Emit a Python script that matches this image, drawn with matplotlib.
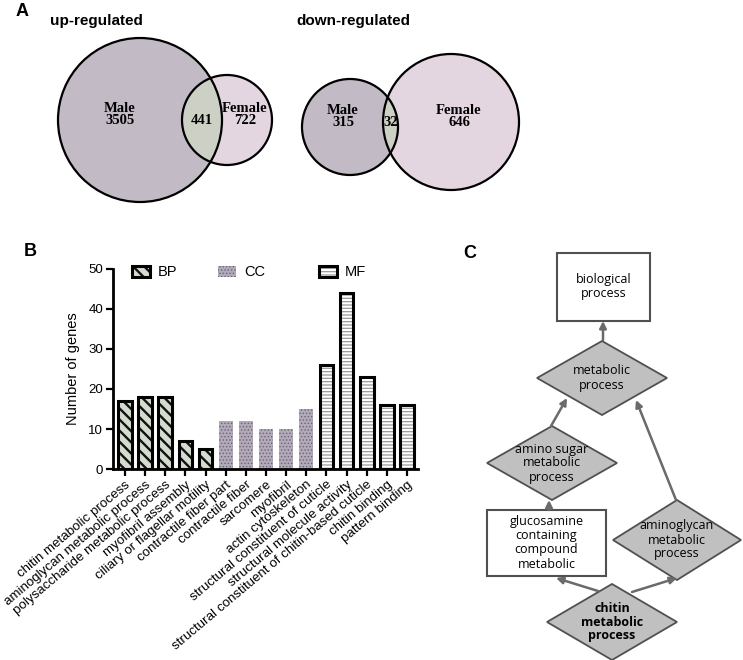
import matplotlib
matplotlib.use('Agg')
import matplotlib.pyplot as plt
from matplotlib.patches import Circle, Rectangle, Polygon
import numpy as np

# ---------------- data ----------------
up_labels = ['Male', '', 'Female']
up_counts = [3505, 441, 722]
down_labels = ['Male', '', 'Female']
down_counts = [315, 32, 646]

go_terms = ['chitin metabolic process', 'aminoglycan metabolic process',
            'polysaccharide metabolic process', 'myofibril assembly',
            'ciliary or flagellar motility', 'contractile fiber part',
            'contractile fiber', 'sarcomere', 'myofibril', 'actin cytoskeleton',
            'structural constituent of cuticle', 'structural molecule activity',
            'structural constituent of chitin-based cuticle', 'chitin binding',
            'pattern binding']
go_counts = [17, 18, 18, 7, 5, 12, 12, 10, 10, 15, 26, 44, 23, 16, 16]
go_groups = ['BP'] * 5 + ['CC'] * 5 + ['MF'] * 5
group_names = ['BP', 'CC', 'MF']
yticks = [0, 10, 20, 30, 40, 50]

# ---------------- figure ----------------
W, H = 743, 660
fig = plt.figure(figsize=(W / 100, H / 100), dpi=100)
bg = fig.add_axes([0, 0, 1, 1])
bg.set_xlim(0, W)
bg.set_ylim(H, 0)
bg.axis('off')

SANS = 'Liberation Sans'
SERIF = 'Liberation Serif'

# ---------------- Panel A: Venn ----------------
bg.text(22, 11, 'A', fontsize=13, fontweight='bold', family=SANS, va='center', ha='center')
bg.text(50, 21, 'up-regulated', fontsize=11, fontweight='bold', family=SANS, va='center')
bg.text(296, 21, 'down-regulated', fontsize=11, fontweight='bold', family=SANS, va='center')

c_male = '#c2bac5'
c_fem = '#e3d6e0'
c_int = '#cdd1c5'


def venn(cA, rA, cB, rB, counts, labels, posA, posI, posB, fs=10.5):
    a = Circle(cA, rA, facecolor=c_male, edgecolor='none')
    b = Circle(cB, rB, facecolor=c_fem, edgecolor='none')
    bg.add_patch(a)
    bg.add_patch(b)
    inter = Circle(cA, rA, facecolor=c_int, edgecolor='none')
    bg.add_patch(inter)
    clip = Circle(cB, rB, transform=bg.transData)
    inter.set_clip_path(clip)
    bg.add_patch(Circle(cA, rA, fill=False, edgecolor='black', lw=1.6))
    bg.add_patch(Circle(cB, rB, fill=False, edgecolor='black', lw=1.6))
    kw = dict(fontsize=fs, fontweight='bold', family=SERIF, ha='center', va='center',
              linespacing=0.9)
    bg.text(*posA, f'{labels[0]}\n{counts[0]}', **kw)
    bg.text(*posI, f'{counts[1]}', **kw)
    bg.text(*posB, f'{labels[2]}\n{counts[2]}', **kw)


venn((140, 120), 82, (227, 120), 45, up_counts, up_labels,
     (120, 115), (202, 120), (245, 115))
venn((350, 127), 48, (451, 122), 68, down_counts, down_labels,
     (343, 117), (391, 123), (459, 117))

# ---------------- Panel B: bar chart ----------------
bg.text(30, 252, 'B', fontsize=13, fontweight='bold', family=SANS, va='center', ha='center')

ax = fig.add_axes([113 / W, 1 - 469 / H, (418 - 113) / W, 200 / H])
ax.set_facecolor('none')

styles = {
    'BP': dict(face='#d3dccf', hatch='\\\\\\', hcol='#111111', hlw=1.7, edge=True),
    'CC': dict(face='#b3aab9', hatch='.....', hcol='#6d6473', hlw=0.6, edge=False),
    'MF': dict(face='white', hatch='-----', hcol='#9a9a9a', hlw=0.9, edge=True),
}

x = np.arange(len(go_terms))
bw = 0.68
for g in group_names:
    idx = [i for i, gg in enumerate(go_groups) if gg == g]
    st = styles[g]
    xs = x[idx]
    vs = [go_counts[i] for i in idx]
    with plt.rc_context({'hatch.linewidth': st['hlw']}):
        bars = ax.bar(xs, vs, width=bw, color=st['face'], edgecolor=st['hcol'],
                      linewidth=0, hatch=st['hatch'], zorder=2)
    for p in bars:
        if hasattr(p, 'set_hatch_linewidth'):
            p.set_hatch_linewidth(st['hlw'])
    if st['edge']:
        ax.bar(xs, vs, width=bw, fill=False, edgecolor='black', linewidth=2.2, zorder=3)

ax.set_xlim(-0.6, 14.55)
ax.set_ylim(0, 50)
ax.set_yticks(yticks)
ax.set_xticks(x)
ax.set_xticklabels(go_terms, rotation=40, ha='right', rotation_mode='anchor',
                   fontsize=9.6, family=SANS)
for lab in ax.get_yticklabels():
    lab.set_family(SANS)
    lab.set_fontsize(9.5)
ax.tick_params(axis='both', direction='out', length=5, width=1.6, color='black', pad=2)
for s in ['top', 'right']:
    ax.spines[s].set_visible(False)
for s in ['left', 'bottom']:
    ax.spines[s].set_linewidth(2.0)
ax.set_ylabel('Number of genes', fontsize=10.5, family=SANS, labelpad=6)

# legend (manual, in pixel coordinates)
leg_items = [('BP', 132, 158), ('CC', 218, 244), ('MF', 319, 345)]
for name, bx, tx in leg_items:
    st = styles[name]
    with plt.rc_context({'hatch.linewidth': st['hlw']}):
        r = Rectangle((bx, 266), 18, 11, facecolor=st['face'], edgecolor=st['hcol'],
                      linewidth=0, hatch=st['hatch'])
    if hasattr(r, 'set_hatch_linewidth'):
        r.set_hatch_linewidth(st['hlw'])
    bg.add_patch(r)
    if st['edge']:
        bg.add_patch(Rectangle((bx, 266), 18, 11, fill=False, edgecolor='black', linewidth=2.2))
    bg.text(tx, 272, name, fontsize=10.5, family=SANS, va='center', ha='left')

# ---------------- Panel C: GO graph ----------------
bg.text(470, 253, 'C', fontsize=13, fontweight='bold', family=SANS, va='center', ha='center')

CF = 'Open Sans'
dia_face = '#c0c0c0'
edge_col = '#505050'
arrow_col = '#6a6a6a'


def diamond(cx, cy, hw, hh, text, bold=False):
    bg.add_patch(Polygon([(cx - hw, cy), (cx, cy - hh), (cx + hw, cy), (cx, cy + hh)],
                         closed=True, facecolor=dia_face, edgecolor=edge_col, lw=1.3))
    bg.text(cx, cy, text, fontsize=9, family=CF, ha='center', va='center',
            fontweight='bold' if bold else 'normal', linespacing=1.1)


def box(x0, y0, x1, y1, text):
    bg.add_patch(Rectangle((x0, y0), x1 - x0, y1 - y0, facecolor='white',
                           edgecolor=edge_col, lw=1.5))
    bg.text((x0 + x1) / 2, (y0 + y1) / 2, text, fontsize=9, family=CF,
            ha='center', va='center', linespacing=1.1)


def arrow(x0, y0, x1, y1):
    bg.annotate('', xy=(x1, y1), xytext=(x0, y0),
                arrowprops=dict(arrowstyle='-|>', color=arrow_col, lw=1.8,
                                mutation_scale=10, shrinkA=0, shrinkB=0))


box(557, 253, 650, 321, 'biological\nprocess')
diamond(602, 378, 65, 37, 'metabolic\nprocess')
diamond(552, 463, 65, 37, 'amino sugar\nmetabolic\nprocess')
box(487, 510, 606, 576, 'glucosamine\ncontaining\ncompound\nmetabolic')
diamond(677, 540, 64, 40, 'aminoglycan\nmetabolic\nprocess')
diamond(612, 622, 65, 38, 'chitin\nmetabolic\nprocess', bold=True)

arrow(603, 340, 603, 321)
arrow(551, 426, 567, 398)
arrow(676, 500, 636, 400)
arrow(549, 510, 549, 500)
arrow(598, 591, 556, 578)
arrow(632, 592, 677, 578)

fig.savefig('out.png', dpi=100)
